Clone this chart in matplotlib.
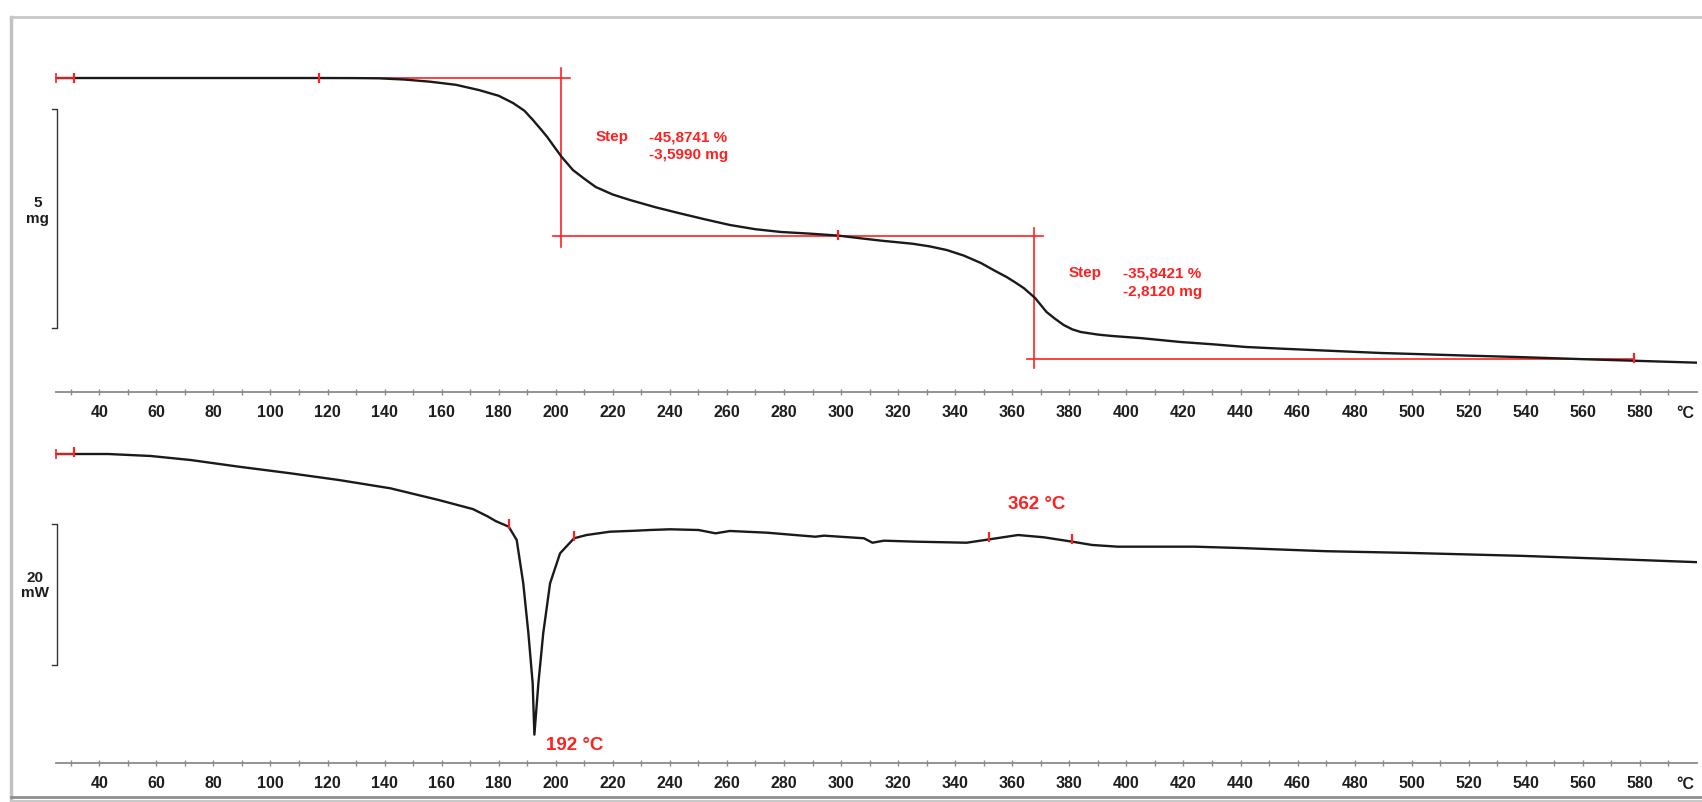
import matplotlib
matplotlib.use("Agg")
import matplotlib.pyplot as plt
from matplotlib.lines import Line2D
import numpy as np

plt.rcParams['font.family'] = ['Liberation Sans', 'DejaVu Sans']

# ---------------- data ----------------
# TGA: temperature (°C) and sample mass (mg)
tga_temp = [25, 60, 100, 117, 130, 138, 147, 156, 165, 173, 180, 185, 189, 192, 195,
            197, 199, 202, 206, 210, 214, 220, 226, 235, 243, 252, 261, 270, 279, 289,
            299, 306, 314, 325, 331, 337, 343, 349, 354, 358, 361, 364, 368, 372, 375,
            378, 381, 384, 390, 395, 405, 419, 430, 442, 454, 465, 477, 489, 500, 520,
            538, 560, 580, 600]
tga_mass = [7.845, 7.845, 7.845, 7.845, 7.843, 7.838, 7.81, 7.761, 7.69, 7.572, 7.44,
            7.276, 7.10, 6.888, 6.66, 6.501, 6.32, 6.052, 5.749, 5.55, 5.362, 5.19, 5.066,
            4.90, 4.770, 4.63, 4.497, 4.40, 4.337, 4.30, 4.255, 4.20, 4.14, 4.07, 4.01,
            3.927, 3.80, 3.631, 3.45, 3.312, 3.19, 3.061, 2.834, 2.515, 2.36, 2.219, 2.12,
            2.059, 2.00, 1.968, 1.92, 1.831, 1.78, 1.717, 1.68, 1.649, 1.615, 1.581, 1.56,
            1.52, 1.487, 1.44, 1.40, 1.36]

# DSC: temperature (°C) and heat flow (mW, relative)
dsc_temp = [25, 31, 43, 58, 72, 89, 107, 124, 142, 159, 171, 176, 179, 183.5, 186.3,
            188.6, 190.4, 191.9, 192.5, 193.9, 195.6, 198, 201.5, 206.4, 210.8, 219, 228,
            233, 240, 250, 256, 261, 274, 291, 294, 308, 311, 315, 326, 344, 352, 362,
            371, 381, 388, 397, 408, 424, 440, 470, 500, 538, 570, 600]
dsc_flow = [0, 0, 0, -0.28, -0.85, -1.80, -2.73, -3.68, -4.85, -6.51, -7.8, -8.8, -9.5,
            -10.28, -12.16, -18.29, -25.36, -32.43, -39.7, -32.43, -25.36, -18.29, -14.05,
            -11.92, -11.46, -10.99, -10.85, -10.75, -10.65, -10.75, -11.22, -10.89, -11.13,
            -11.70, -11.55, -11.92, -12.55, -12.26, -12.40, -12.55, -12.07, -11.46, -11.78,
            -12.40, -12.87, -13.11, -13.11, -13.11, -13.3, -13.75, -14.0, -14.40, -14.85,
            -15.3]

# step evaluation (TGA)
step_start_mass = 7.845
step1_mass = 3.5990          # mg lost in step 1
step2_mass = 2.8120          # mg lost in step 2
step1_text = ["Step", "-45,8741 %", "-3,5990 mg"]
step2_text = ["Step", "-35,8421 %", "-2,8120 mg"]
step1_temp_range = (117, 205, 201.7)   # baseline start, baseline end, vertical line
step2_temp_range = (199, 370.8, 367.6)
step3_temp_range = (365.1, 578)
tga_markers = [31, 117, 299, 578]
dsc_markers = [31, 183.5, 206.4, 352, 381]
peak_labels = [("192 °C", 196.6, -41.2), ("362 °C", 368.7, -7.2)]

tick_major = list(range(40, 600, 20))
tick_minor = list(range(30, 600, 20))
tick_labels = [str(t) for t in tick_major]

# ---------------- figure ----------------
W, H = 1702, 802
fig = plt.figure(figsize=(W / 100, H / 100), dpi=100)
fig.patch.set_facecolor('white')


def px_axes(x0, y_top, x1, y_bot):
    return [x0 / W, 1 - y_bot / H, (x1 - x0) / W, (y_bot - y_top) / H]


ax1 = fig.add_axes(px_axes(56.5, 40, 1697, 392))
ax2 = fig.add_axes(px_axes(56.5, 420, 1697, 763))
ax1.set_ylim(0.692, 8.711)
ax2.set_ylim(-43.71, 4.81)

RED = '#ff2020'
LINE = '#1a1a1a'
AXC = '#8a8a8a'

for ax in (ax1, ax2):
    ax.set_xlim(25, 600)
    for s in ('top', 'left', 'right'):
        ax.spines[s].set_visible(False)
    ax.spines['bottom'].set_color(AXC)
    ax.spines['bottom'].set_linewidth(1.3)
    ax.set_yticks([])
    ax.set_xticks(tick_major)
    ax.set_xticklabels(tick_labels)
    ax.set_xticks(tick_minor, minor=True)
    ax.tick_params(axis='x', which='both', direction='inout', length=4, width=1,
                   color=AXC, pad=7.5)
    ax.tick_params(axis='x', which='major', labelsize=11.5, labelcolor='#1e1e1e')
    for lab in ax.get_xticklabels():
        lab.set_fontweight('bold')
    ax.annotate('°C', xy=(596.0, 0), xycoords=('data', 'axes fraction'),
                xytext=(0, -15.5), textcoords='offset points', ha='center', va='center',
                fontsize=11.5, fontweight='bold', color='#1e1e1e', annotation_clip=False)
    ax.patch.set_alpha(0)

# ---- TGA ----
ax1.plot(tga_temp, tga_mass, color=LINE, lw=1.7, solid_joinstyle='round', zorder=3)
m1 = step_start_mass
m2 = step_start_mass - step1_mass
m3 = m2 - step2_mass
ax1.plot([step1_temp_range[0], step1_temp_range[1]], [m1, m1], color=RED, lw=1.2, zorder=2)
ax1.plot([step1_temp_range[2]] * 2, [m1 + 0.23, m2 - 0.25], color=RED, lw=1.2, zorder=2)
ax1.plot([step2_temp_range[0], step2_temp_range[1]], [m2, m2], color=RED, lw=1.2, zorder=2)
ax1.plot([step2_temp_range[2]] * 2, [m2 + 0.19, m3 - 0.19], color=RED, lw=1.2, zorder=2)
ax1.plot([step3_temp_range[0], step3_temp_range[1]], [m3, m3], color=RED, lw=1.2, zorder=2)
ax1.plot([24.7, 31], [m1, m1], color=RED, lw=1.2, zorder=4, clip_on=False)
ax1.plot(tga_markers, [m1, m1, m2 + 0.03, m3 + 0.03], ls='none', marker='|', ms=7,
         mew=1.6, color=RED, zorder=4)
ax1.plot([24.7], [m1], ls='none', marker='|', ms=7, mew=1.2, color=RED, zorder=4,
         clip_on=False)

for (txt, x, y) in [(step1_text[0], 214.1, 6.50), (step1_text[1], 232.7, 6.50),
                    (step1_text[2], 232.7, 6.08),
                    (step2_text[0], 379.6, 3.40), (step2_text[1], 398.9, 3.40),
                    (step2_text[2], 398.9, 2.96)]:
    ax1.text(x, y, txt, color=RED, fontsize=11, fontweight='bold', ha='left', va='center')

# scale bar 5 mg
sb_top, sb_bot = 7.15, 2.15
ax1.plot([23.3, 25.2, 25.2, 23.3], [sb_top, sb_top, sb_bot, sb_bot], color='#333333',
         lw=1.0, clip_on=False)
ax1.text(22.4, (sb_top + sb_bot) / 2 + 0.17, "5\nmg", ha='right', va='center',
         multialignment='center', fontsize=11, fontweight='bold', color='#1e1e1e',
         linespacing=1.15)

# ---- DSC ----
ax2.plot(dsc_temp, dsc_flow, color=LINE, lw=1.7, solid_joinstyle='round', zorder=3)
mk_y = np.interp(dsc_markers, dsc_temp, dsc_flow)
ax2.plot(dsc_markers, mk_y + 0.35, ls='none', marker='|', ms=7, mew=1.6, color=RED, zorder=4)
ax2.plot([24.7, 31], [0, 0], color=RED, lw=1.2, zorder=4, clip_on=False)
ax2.plot([24.7], [0], ls='none', marker='|', ms=7, mew=1.2, color=RED, zorder=4,
         clip_on=False)
for (txt, x, y) in peak_labels:
    ax2.text(x, y, txt, color=RED, fontsize=13.5, fontweight='bold',
             ha='left' if txt.startswith('192') else 'center', va='center')

# scale bar 20 mW
db_top, db_bot = -9.9, -29.9
ax2.plot([23.3, 25.2, 25.2, 23.3], [db_top, db_top, db_bot, db_bot], color='#333333',
         lw=1.0, clip_on=False)
ax2.text(22.4, (db_top + db_bot) / 2 + 1.3, "20\nmW", ha='right', va='center',
         multialignment='center', fontsize=11, fontweight='bold', color='#1e1e1e',
         linespacing=1.15)

# ---- outer frame ----
def fline(xs, ys, **kw):
    fig.add_artist(Line2D([x / W for x in xs], [1 - y / H for y in ys],
                          transform=fig.transFigure, **kw))

fline([11, 11], [17, 802], color='#c2c2c2', lw=2.5)
fline([11, 1702], [17, 17], color='#c8c8c8', lw=2.0)
fline([11, 1702], [797, 797], color='#8f8f8f', lw=2.0)
fline([11, 1702], [800.5, 800.5], color='#c8c8c8', lw=1.5)

fig.savefig('out.png', dpi=100, facecolor='white')
